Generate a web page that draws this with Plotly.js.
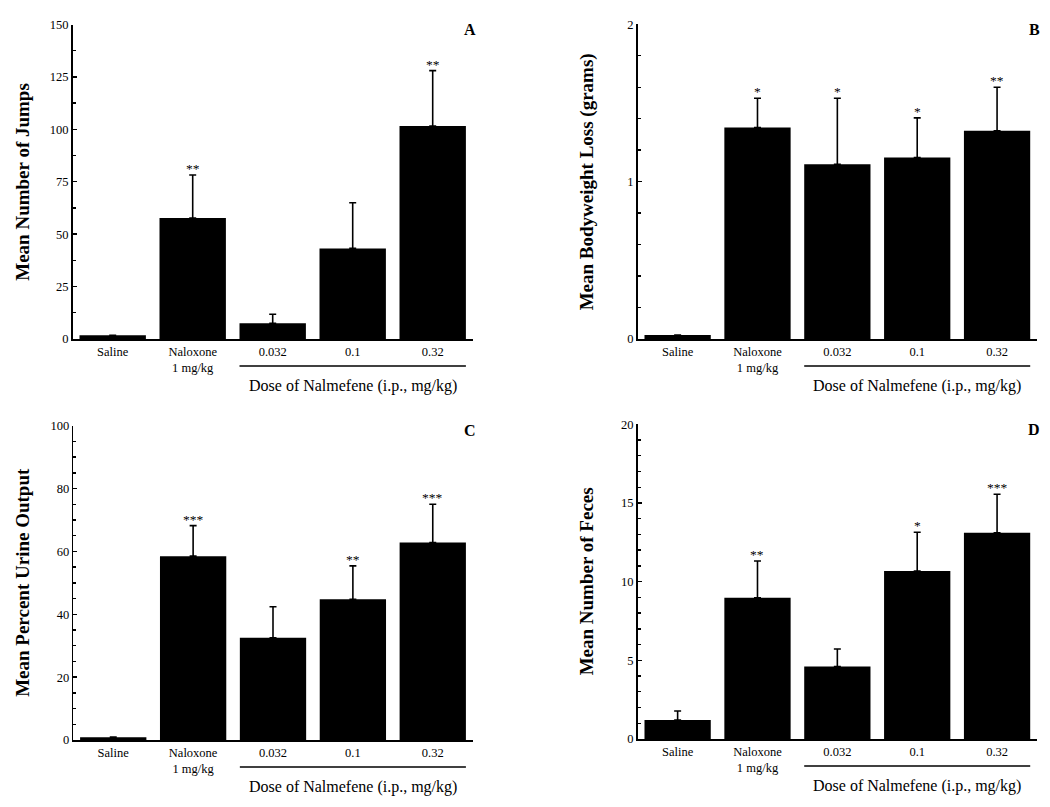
<!DOCTYPE html>
<html>
<head>
<meta charset="utf-8">
<script src="https://cdn.plot.ly/plotly-3.0.1.min.js"></script>
<style>
  html, body { margin: 0; padding: 0; background: #ffffff; }
  #chart { width: 1050px; height: 807px; }
</style>
</head>
<body>
<div id="chart"></div>
<script>
// ---- Data ----
const categories = ['Saline', 'Naloxone<br>1 mg/kg', '0.032', '0.1', '0.32'];

// Panel A: Mean number of jumps
const jumpsMean  = [1.8, 57.7, 7.5, 43.2, 101.6];
const jumpsSem   = [0, 20.5, 4.3, 21.8, 26.4];
const jumpsStars = ['', '**', '', '', '**'];

// Panel B: Mean bodyweight loss (grams)
const weightMean  = [0.025, 1.344, 1.11, 1.153, 1.323];
const weightSem   = [0, 0.186, 0.42, 0.252, 0.277];
const weightStars = ['', '*', '*', '*', '**'];

// Panel C: Mean percent urine output
const urineMean  = [0.9, 58.5, 32.5, 44.8, 62.8];
const urineSem   = [0, 9.7, 9.9, 10.6, 12.2];
const urineStars = ['', '***', '', '**', '***'];

// Panel D: Mean number of feces
const fecesMean  = [1.21, 8.98, 4.6, 10.68, 13.11];
const fecesSem   = [0.57, 2.33, 1.12, 2.46, 2.44];
const fecesStars = ['', '**', '', '*', '***'];

const yTitles = ['Mean Number of Jumps', 'Mean Bodyweight Loss (grams)', 'Mean Percent Urine Output', 'Mean Number of Feces'];
const panelLetters = ['A', 'B', 'C', 'D'];
const groupLabel = 'Dose of Nalmefene (i.p., mg/kg)';
const yRanges = [[0, 150], [0, 2], [0, 100], [0, 20]];
const yDticks = [25, 1, 20, 5];
const yMinorDticks = [12.5, 0.2, 5, 1];

// ---- Layout geometry ----
const W = 1050, H = 807;
const xDomains = [[72.7 / W, 472.7 / W], [637.7 / W, 1037 / W], [73.3 / W, 472.7 / W], [637.7 / W, 1037 / W]];
const yDomains = [[1 - 339 / H, 1 - 24.5 / H], [1 - 339 / H, 1 - 24.3 / H], [1 - 740 / H, 1 - 425.7 / H], [1 - 739 / H, 1 - 424.3 / H]];
const yTitleX = [23 / W, 586.7 / W, 23 / W, 586.7 / W];

const FONT = '"Liberation Serif", "Times New Roman", serif';
const means = [jumpsMean, weightMean, urineMean, fecesMean];
const sems = [jumpsSem, weightSem, urineSem, fecesSem];
const stars = [jumpsStars, weightStars, urineStars, fecesStars];

const traces = [];
const layout = {
  width: W, height: H,
  margin: { l: 0, r: 0, t: 0, b: 0 },
  paper_bgcolor: '#ffffff',
  plot_bgcolor: '#ffffff',
  showlegend: false,
  bargap: 0.17,
  font: { family: FONT, color: '#000000', size: 12 },
  annotations: [],
  shapes: []
};

for (let p = 0; p < 4; p++) {
  const sfx = p === 0 ? '' : String(p + 1);
  const xRef = 'x' + sfx, yRef = 'y' + sfx;
  const xKey = 'xaxis' + sfx, yKey = 'yaxis' + sfx;

  traces.push({
    type: 'bar',
    x: [0, 1, 2, 3, 4],
    y: means[p],
    xaxis: xRef, yaxis: yRef,
    marker: { color: '#000000', line: { width: 0 } },
    error_y: {
      type: 'data', symmetric: false,
      array: sems[p],
      arrayminus: sems[p].map(() => 0),
      color: '#000000', thickness: 1.6, width: 3.5
    },
    hoverinfo: 'skip'
  });

  layout[xKey] = {
    domain: xDomains[p],
    anchor: yRef,
    range: [-0.5, 4.5],
    tickmode: 'array',
    tickvals: [0, 1, 2, 3, 4],
    ticktext: categories,
    ticks: '',
    showline: true, linecolor: '#000000', linewidth: 1.6,
    showgrid: false, zeroline: false,
    tickfont: { family: FONT, size: 12.5, color: '#000000' },
    fixedrange: true
  };
  layout[yKey] = {
    domain: yDomains[p],
    anchor: xRef,
    range: yRanges[p],
    tickmode: 'linear', tick0: 0, dtick: yDticks[p],
    ticks: 'inside', ticklen: 4, tickwidth: 1.4, tickcolor: '#000000',
    minor: { dtick: yMinorDticks[p], ticks: 'inside', ticklen: 3, tickwidth: 1.4, tickcolor: '#000000', showgrid: false },
    showline: true, linecolor: '#000000', linewidth: 1.6,
    showgrid: false, zeroline: false,
    tickfont: { family: FONT, size: 12.5, color: '#000000' },
    fixedrange: true
  };

  // significance stars above error bars
  for (let i = 0; i < categories.length; i++) {
    if (stars[p][i]) {
      layout.annotations.push({
        xref: xRef, yref: yRef,
        x: i, y: means[p][i] + sems[p][i],
        text: stars[p][i], showarrow: false,
        xanchor: 'center', yanchor: 'bottom', yshift: -3,
        font: { family: FONT, size: 13.5, color: '#000000' }
      });
    }
  }

  // panel letter
  layout.annotations.push({
    xref: xRef + ' domain', yref: yRef + ' domain',
    x: 0.993, y: 0.985, text: '<b>' + panelLetters[p] + '</b>', showarrow: false,
    xanchor: 'center', yanchor: 'middle',
    font: { family: FONT, size: 16, color: '#000000' }
  });

  // y-axis title
  layout.annotations.push({
    xref: 'paper', yref: yRef + ' domain',
    x: yTitleX[p], y: 0.5, text: '<b>' + yTitles[p] + '</b>', showarrow: false,
    textangle: -90, xanchor: 'center', yanchor: 'middle',
    font: { family: FONT, size: 19, color: '#000000' }
  });

  // group bracket line and label for the nalmefene doses
  layout.shapes.push({
    type: 'line', xref: xRef, yref: yRef + ' domain',
    x0: 2 - 0.415, x1: 4 + 0.415, y0: -0.086, y1: -0.086,
    line: { color: '#000000', width: 1.4 }
  });
  layout.annotations.push({
    xref: xRef, yref: yRef + ' domain',
    x: 3, y: -0.15, text: groupLabel, showarrow: false,
    xanchor: 'center', yanchor: 'middle',
    font: { family: FONT, size: 16, color: '#000000' }
  });
}

Plotly.newPlot('chart', traces, layout, { staticPlot: true, displayModeBar: false });
</script>
</body>
</html>
